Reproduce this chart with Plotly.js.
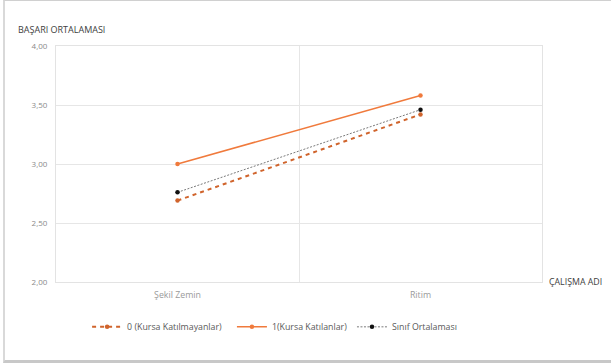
<!DOCTYPE html>
<html>
<head>
<meta charset="utf-8">
<script src="https://cdn.plot.ly/plotly-3.0.1.min.js"></script>
<style>
  html, body { margin: 0; padding: 0; background: #fff; }
  #frame {
    position: absolute; left: 3px; top: 0; width: 620px; height: 363px;
    border-top: 1px solid #d0d0d0; border-left: 2px solid #d9d9d9; border-bottom: 3px solid #c8c8c8;
    box-sizing: border-box; pointer-events: none;
  }
  #chart { width: 611px; height: 364px; }
</style>
</head>
<body>
<div id="chart"></div>
<div id="frame"></div>
<script>
// Study names on the category axis
const categories = ["Şekil Zemin", "Ritim"];

// Average scores per group
const notAttended = [2.69, 3.42];   // 0 (Kursa Katılmayanlar)
const attended = [3.00, 3.58];      // 1(Kursa Katılanlar)
const classAverage = [2.76, 3.46];  // Sınıf Ortalaması

const seriesNames = ["0 (Kursa Katılmayanlar)", "1(Kursa Katılanlar)", "Sınıf Ortalaması"];
const yTicks = [2.0, 2.5, 3.0, 3.5, 4.0];
const yTickText = ["2,00", "2,50", "3,00", "3,50", "4,00"];

const font = "Open Sans, Noto Sans, sans-serif";

const traces = [
  {
    x: categories, y: notAttended, name: seriesNames[0], type: "scatter", mode: "lines+markers",
    line: { color: "#d0642c", width: 2, dash: "4px,4px" },
    marker: { color: "#d0642c", size: 4.5 }, legend: "legend"
  },
  {
    x: categories, y: attended, name: seriesNames[1], type: "scatter", mode: "lines+markers",
    line: { color: "#f07a3c", width: 1.5 },
    marker: { color: "#f07a3c", size: 4.5 }, legend: "legend2"
  },
  {
    x: categories, y: classAverage, name: seriesNames[2], type: "scatter", mode: "lines+markers",
    line: { color: "#7a7a7a", width: 1, dash: "2px,1.5px" },
    marker: { color: "#111111", size: 4.5 }, legend: "legend3"
  }
];

// One legend box per series so each entry sits at its own spot
function legendAt(x) {
  return {
    orientation: "h", x: x, xanchor: "left", y: -0.19, yanchor: "middle",
    font: { family: font, size: 8.8, color: "#595959" },
    itemwidth: 30, bgcolor: "rgba(0,0,0,0)"
  };
}

const layout = {
  width: 611, height: 364,
  margin: { l: 56, r: 69, t: 46, b: 82 },
  paper_bgcolor: "#ffffff", plot_bgcolor: "#ffffff",
  font: { family: font, size: 7, color: "#595959" },
  showlegend: true,
  legend: legendAt(0.064),
  legend2: legendAt(0.362),
  legend3: legendAt(0.609),
  xaxis: {
    type: "category", range: [-0.5, 1.5], tickson: "boundaries",
    showgrid: true, gridcolor: "#e6e6e6", gridwidth: 1,
    showline: true, mirror: true, linecolor: "#e3e3e3", linewidth: 1,
    zeroline: false, ticks: "",
    tickfont: { family: font, size: 8.8, color: "#9a9a9a" }, ticklabelstandoff: 4
  },
  yaxis: {
    range: [2.0, 4.0], tickvals: yTicks, ticktext: yTickText,
    showgrid: true, gridcolor: "#e6e6e6", gridwidth: 1,
    showline: true, mirror: true, linecolor: "#e3e3e3", linewidth: 1,
    zeroline: false, ticks: "",
    tickfont: { family: font, size: 8, color: "#8a8a8a" }, ticklabelstandoff: 6
  },
  annotations: [
    {
      text: "BAŞARI ORTALAMASI", xref: "paper", yref: "paper",
      x: -0.082, y: 1.07, xanchor: "left", yanchor: "middle", showarrow: false,
      font: { family: font, size: 9, color: "#404040" }
    },
    {
      text: "ÇALIŞMA ADI", xref: "paper", yref: "paper",
      x: 1.01, y: 0, xanchor: "left", yanchor: "middle", showarrow: false,
      font: { family: font, size: 8.8, color: "#404040" }
    }
  ]
};

Plotly.newPlot("chart", traces, layout, { displayModeBar: false, staticPlot: true });
</script>
</body>
</html>
